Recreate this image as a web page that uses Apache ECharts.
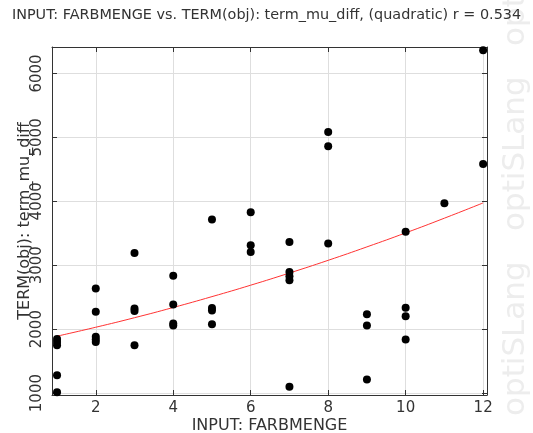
<!DOCTYPE html>
<html>
<head>
<meta charset="utf-8">
<script src="https://cdn.jsdelivr.net/npm/echarts@6/dist/echarts.min.js"></script>
<style>
  html, body { margin: 0; padding: 0; background: #fff; }
  #chart { width: 533px; height: 433px; }
</style>
</head>
<body>
<div id="chart"></div>
<script>
// values
const farbmenge = [
  1, 1, 1, 1, 1,
  2, 2, 2, 2, 2,
  3, 3, 3, 3,
  4, 4, 4, 4,
  5, 5, 5, 5,
  6, 6, 6,
  7, 7, 7, 7, 7,
  8, 8, 8,
  9, 9, 9,
  10, 10, 10, 10,
  11,
  12, 12
]
const termMuDiff = [
  1848, 1801, 1750, 1280, 1014,
  2637, 2271, 1880, 1839, 1801,
  3193, 2324, 2286, 1750,
  2834, 2386, 2089, 2058,
  3716, 2330, 2290, 2078,
  3830, 3314, 3209,
  3365, 2896, 2829, 2766, 1098,
  5086, 4862, 3340,
  2235, 2058, 1213,
  3522, 2333, 2203, 1839,
  3971,
  6364, 4585
]
// quadratic fit, read at each integer x
const fitX = [1, 2, 3, 4, 5, 6, 7, 8, 9, 10, 11, 12]
const fitY = [1890, 2030, 2179, 2339, 2509, 2688, 2878, 3077, 3287, 3506, 3736, 3975]

const xTicks = [2, 4, 6, 8, 10, 12]
const yTicks = [1000, 2000, 3000, 4000, 5000, 6000]

const titleText = 'INPUT: FARBMENGE vs. TERM(obj): term_mu_diff, (quadratic) r = 0.534'
const xName = 'INPUT: FARBMENGE'
const yName = 'TERM(obj): term_mu_diff'
const watermark = 'optiSLang'

const font = 'DejaVu Sans, Verdana, sans-serif'
const textColor = '#333'

const points = farbmenge.map(function (x, i) { return [x, termMuDiff[i]] })
const fitLine = fitX.map(function (x, i) { return [x, fitY[i]] })

const xRange = { min: 0.87, max: 12.1 }
const yRange = { min: 970, max: 6414 }

function baseAxis(range, ticks) {
  return {
    type: 'value',
    min: range.min,
    max: range.max,
    axisLine: { show: true, onZero: false, lineStyle: { color: '#333', width: 1 } },
    axisTick: { show: true, inside: true, length: 5, customValues: ticks, lineStyle: { color: '#333' } },
    splitLine: { show: false }
  }
}

const xMain = Object.assign(baseAxis(xRange, xTicks), {
  position: 'bottom',
  name: xName,
  nameLocation: 'middle',
  nameGap: 23,
  nameMoveOverlap: false,
  nameTextStyle: { fontFamily: font, fontSize: 16, color: textColor },
  axisLabel: { customValues: xTicks, margin: 6, fontFamily: font, fontSize: 15, color: textColor },
  splitLine: { show: true, lineStyle: { color: '#dedede', width: 1 } }
})
const xTop = Object.assign(baseAxis(xRange, xTicks), {
  position: 'top',
  axisLabel: { show: false }
})
const yMain = Object.assign(baseAxis(yRange, yTicks), {
  position: 'left',
  name: yName,
  nameLocation: 'middle',
  nameGap: 19,
  nameMoveOverlap: false,
  nameTextStyle: { fontFamily: font, fontSize: 16, color: textColor },
  axisLabel: {
    customValues: yTicks,
    rotate: 90,
    margin: 7,
    fontFamily: font,
    fontSize: 15,
    color: textColor,
    formatter: function (v) { return String(v) }
  },
  splitLine: { show: true, lineStyle: { color: '#dedede', width: 1 } }
})
const yRight = Object.assign(baseAxis(yRange, yTicks), {
  position: 'right',
  axisLabel: { show: false }
})

function markText(y) {
  return {
    type: 'text',
    x: 531,
    y: y,
    rotation: Math.PI / 2,
    silent: true,
    style: {
      text: watermark,
      font: '31px ' + font,
      fill: '#ededed',
      textAlign: 'left',
      textVerticalAlign: 'bottom'
    }
  }
}

const option = {
  animation: false,
  backgroundColor: '#fff',
  title: {
    text: titleText,
    left: 'center',
    top: 3,
    textStyle: { fontFamily: font, fontSize: 14.4, fontWeight: 'normal', color: textColor }
  },
  grid: { left: 52, top: 47, right: 46, bottom: 38, containLabel: false, outerBoundsMode: 'none' },
  xAxis: [xMain, xTop],
  yAxis: [yMain, yRight],
  graphic: [markText(416), markText(231), markText(46)],
  series: [
    {
      type: 'line',
      data: fitLine,
      smooth: true,
      showSymbol: false,
      symbol: 'none',
      lineStyle: { color: '#ff3333', width: 1 },
      z: 2
    },
    {
      type: 'scatter',
      data: points,
      symbol: 'circle',
      symbolSize: 8,
      itemStyle: { color: '#000', opacity: 1 },
      z: 3
    }
  ]
}

const myChart = echarts.init(document.getElementById('chart'), null, { renderer: 'canvas' })
myChart.setOption(option)
</script>
</body>
</html>
